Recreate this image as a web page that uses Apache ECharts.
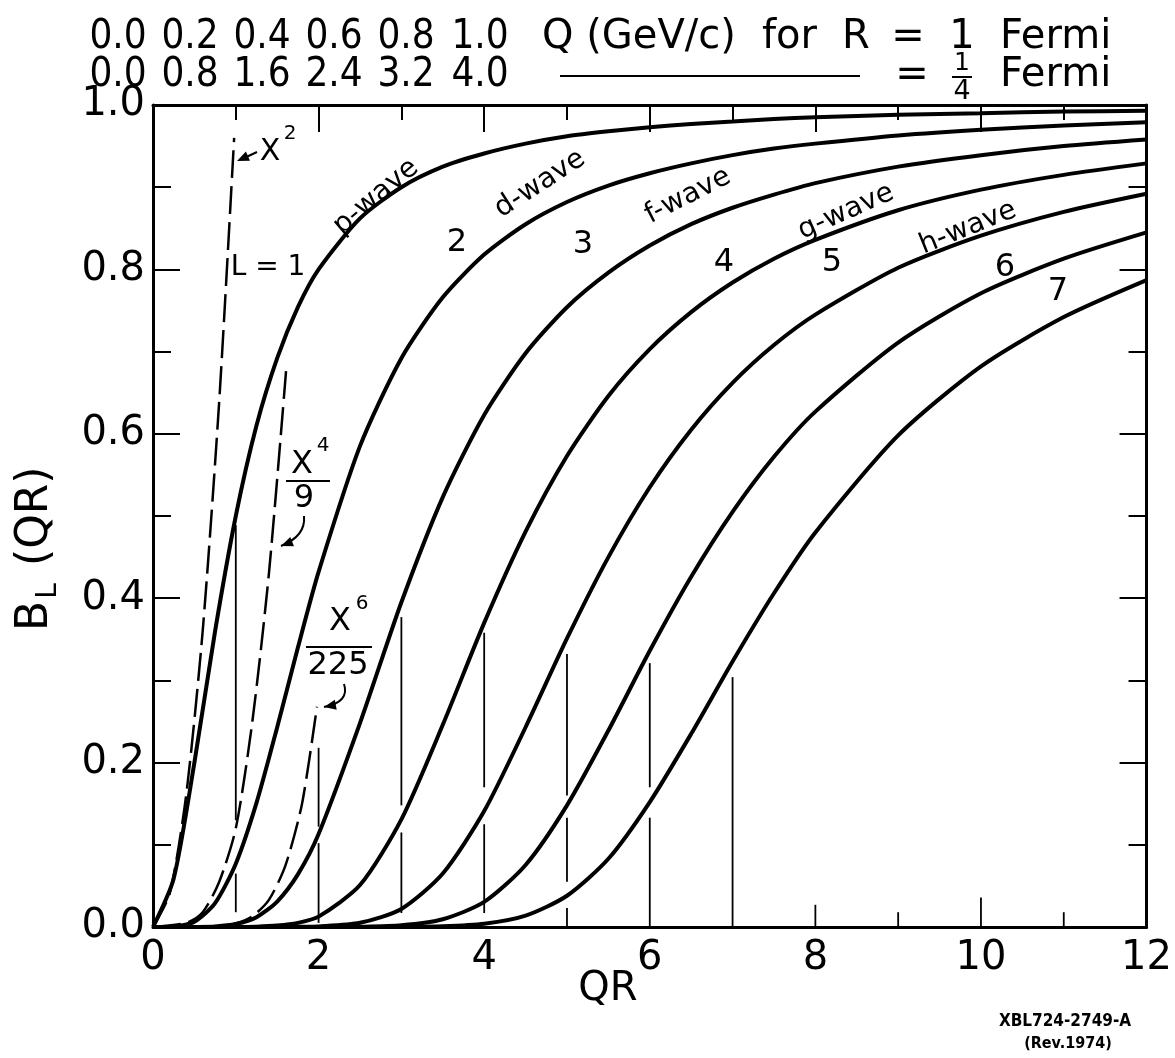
<!DOCTYPE html>
<html>
<head>
<meta charset="utf-8">
<title>Barrier penetration factors B_L(QR)</title>
<script src="https://cdn.jsdelivr.net/npm/echarts@6/dist/echarts.min.js"></script>
<style>
html,body{margin:0;padding:0;background:#fff;}
#chart{width:1175px;height:1058px;}
</style>
</head>
<body>
<div id="chart"></div>
<script>
// ---------- data ----------
const qr = [0,0.25,0.5,0.75,1,1.25,1.5,1.75,2,2.5,3,3.5,4,4.5,5,5.5,6,6.5,7,7.5,8,9,10,11,12];
const bL1 = [0,0.059,0.2,0.36,0.5,0.61,0.692,0.754,0.8,0.862,0.9,0.925,0.941,0.953,0.962,0.968,0.973,0.977,0.98,0.983,0.985,0.988,0.99,0.992,0.993];
const bL2 = [0,0.0004,0.0064,0.029,0.077,0.151,0.243,0.34,0.432,0.585,0.692,0.766,0.818,0.855,0.882,0.902,0.917,0.929,0.939,0.947,0.953,0.963,0.97,0.975,0.979];
const bL3 = [0,0,0.0001,0.0007,0.0036,0.012,0.031,0.064,0.113,0.248,0.395,0.523,0.623,0.698,0.754,0.796,0.829,0.855,0.875,0.891,0.905,0.925,0.939,0.95,0.958];
const bL4 = [0,0,0,0,0.0001,0.0004,0.0017,0.005,0.0126,0.051,0.131,0.246,0.37,0.481,0.573,0.646,0.703,0.748,0.784,0.813,0.836,0.872,0.897,0.915,0.929];
const bL5 = [0,0,0,0,0,0,0,0.0002,0.0007,0.0051,0.022,0.065,0.141,0.243,0.351,0.45,0.535,0.605,0.662,0.708,0.745,0.802,0.841,0.87,0.892];
const bL6 = [0,0,0,0,0,0,0,0,0.00003,0.0003,0.002,0.0094,0.0305,0.0755,0.148,0.239,0.336,0.426,0.505,0.572,0.627,0.711,0.771,0.813,0.845];
const bL7 = [0,0,0,0,0,0,0,0,0,0.00002,0.0001,0.0008,0.0039,0.0138,0.038,0.083,0.152,0.235,0.323,0.406,0.48,0.598,0.682,0.742,0.787];

// small-x approximations (dashed)
const qrSq = [0,0.2,0.4,0.6,0.8,0.98];
const bSq  = [0,0.04,0.16,0.36,0.64,0.96];
const qrX4 = [0,0.4,0.6,0.8,1.0,1.2,1.4,1.61];
const bX4  = [0,0.005,0.018,0.055,0.12,0.25,0.43,0.68];
const qrX6 = [0,0.6,0.8,1.0,1.2,1.4,1.6,1.8,1.98];
const bX6  = [0,0.0002,0.0012,0.0044,0.013,0.033,0.075,0.15,0.268];

// vertical marker segments [QR, from, to] (broken where curves cross) and bottom ticks
const markerSegs = [
  [1,0.018,0.065],[1,0.13,0.489],
  [2,0.005,0.102],[2,0.122,0.218],
  [3,0.017,0.115],[3,0.148,0.377],
  [4,0.017,0.125],[4,0.17,0.358],
  [5,0,0.023],[5,0.055,0.133],[5,0.16,0.332],
  [6,0,0.133],[6,0.17,0.321],
  [7,0,0.304],
  [8,0,0.027],[9,0,0.018],[10,0,0.036],[11,0,0.018]
];

// top-scale tick labels
const qGeV1 = ['0.0','0.2','0.4','0.6','0.8','1.0'];
const qGeV4 = ['0.0','0.8','1.6','2.4','3.2','4.0'];
const waveNames = ['p-wave','d-wave','f-wave','g-wave','h-wave'];
const lNumbers = ['2','3','4','5','6','7'];

// ---------- chart ----------
const chart = echarts.init(document.getElementById('chart'));
const BLACK = '#000';
const pair = (xv, yv) => xv.map((x, i) => [x, yv[i]]);
const FONT_AX = '"DejaVu Sans", sans-serif';
const FONT_N = '"DejaVu Sans Condensed", "Liberation Sans Narrow", sans-serif';

const curves = [bL1,bL2,bL3,bL4,bL5,bL6,bL7].map((b, i) => ({
  type: 'line', name: 'L=' + (i + 1), data: pair(qr, b),
  smooth: 0.25, showSymbol: false, symbol: 'none',
  lineStyle: { color: BLACK, width: 4 }, z: 5, silent: true
}));
const dashed = [[qrSq,bSq],[qrX4,bX4],[qrX6,bX6]].map(([xv, yv]) => ({
  type: 'line', data: pair(xv, yv), smooth: 0.25, showSymbol: false, symbol: 'none',
  lineStyle: { color: BLACK, width: 2.5, type: [28, 8] }, z: 4, silent: true
}));
const markers = {
  type: 'custom', data: markerSegs, encode: { x: 0, y: [1, 2] }, silent: true, z: 3,
  renderItem: (params, api) => {
    const a = api.coord([api.value(0), api.value(1)]);
    const b = api.coord([api.value(0), api.value(2)]);
    return { type: 'line', shape: { x1: a[0], y1: a[1], x2: b[0], y2: b[1] },
             style: { stroke: BLACK, lineWidth: 1.8 } };
  }
};

const axLine = { show: true, onZero: false, lineStyle: { color: BLACK, width: 3 } };
const tickIn = { show: true, inside: true, length: 27, lineStyle: { color: BLACK, width: 2 } };
const minorIn = { show: true, splitNumber: 2, length: 15, lineStyle: { color: BLACK, width: 2 } };

// ---------- annotation helpers ----------
const G = [];
const txt = (text, x, y, size, opts = {}) => G.push({
  type: 'text', x, y, rotation: opts.rot || 0, z: 20,
  style: { text, font: (opts.bold ? 'bold ' : '') + size + 'px ' + (opts.family || FONT_AX),
           fill: BLACK, align: opts.align || 'center', verticalAlign: opts.va || 'middle' }
});
const seg = (x1, y1, x2, y2, w) => G.push({ type: 'line', z: 20,
  shape: { x1, y1, x2, y2 }, style: { stroke: BLACK, lineWidth: w || 2 } });
const arrowHead = (tx, ty, fx, fy, len, wid) => {
  const dx = tx - fx, dy = ty - fy, d = Math.hypot(dx, dy), ux = dx / d, uy = dy / d;
  const bx = tx - ux * len, by = ty - uy * len;
  G.push({ type: 'polygon', z: 20, shape: { points: [[tx, ty],
    [bx - uy * wid, by + ux * wid], [bx + uy * wid, by - ux * wid]] }, style: { fill: BLACK } });
};
const curveArrow = (x1, y1, cx, cy, x2, y2) => {
  G.push({ type: 'bezierCurve', z: 20, shape: { x1, y1, x2, y2, cpx1: cx, cpy1: cy },
    style: { stroke: BLACK, lineWidth: 2, fill: null } });
  arrowHead(x2, y2, cx, cy, 12, 5);
};

// header rows
const HS = 40, hy1 = 38, hy2 = 76;
const colX = [118, 190, 262, 334, 406, 480];
qGeV1.forEach((s, i) => txt(s, colX[i], hy1, HS, { family: FONT_N }));
qGeV4.forEach((s, i) => txt(s, colX[i], hy2, HS, { family: FONT_N }));
txt('Q (GeV/c)', 542, hy1, HS, { align: 'left' });
txt('for', 762, hy1, HS, { align: 'left' });
txt('R', 842, hy1, HS, { align: 'left' });
txt('=', 908, hy1, HS);
txt('1', 962, hy1, HS);
txt('Fermi', 1000, hy1, HS, { align: 'left' });
seg(560, hy2, 860, hy2, 2);
txt('=', 912, hy2, HS);
txt('1', 962, hy2 - 13, 25);
seg(952, hy2 + 1, 972, hy2 + 1, 2);
txt('4', 962, hy2 + 16, 27);
txt('Fermi', 1000, hy2, HS, { align: 'left' });

// axis titles
txt('QR', 608, 990, 40);
G.push({ type: 'group', x: 36, y: 540, rotation: Math.PI / 2, z: 20, children: [
  { type: 'text', x: -76, y: 0, style: { text: 'B', font: '44px ' + FONT_AX, fill: BLACK, align: 'center', verticalAlign: 'middle' } },
  { type: 'text', x: -51, y: 13, style: { text: 'L', font: '28px ' + FONT_AX, fill: BLACK, align: 'center', verticalAlign: 'middle' } },
  { type: 'text', x: -26, y: 0, style: { text: '(QR)', font: '44px ' + FONT_AX, fill: BLACK, align: 'left', verticalAlign: 'middle' } }
]});
txt('XBL724-2749-A', 1065, 1022, 17, { bold: true, family: FONT_N });
txt('(Rev.1974)', 1068, 1044, 16, { bold: true, family: FONT_N });

// curve labels
txt('L = 1', 268, 268, 28);
const waveLab = [[376,197,40],[540,184,33],[688,196,27],[846,212,24],[968,228,22]];
waveNames.forEach((s, i) => txt(s, waveLab[i][0], waveLab[i][1], 28, { rot: waveLab[i][2] * Math.PI / 180 }));
const numLab = [[457,243],[583,245],[724,263],[832,263],[1005,268],[1058,292]];
lNumbers.forEach((s, i) => txt(s, numLab[i][0], numLab[i][1], 32));

// x^2
txt('X', 270, 152, 30);
txt('2', 290, 134, 20);
seg(257, 152, 242, 159, 2);
arrowHead(237, 161, 257, 152, 12, 5);
// x^4 / 9
txt('X', 302, 465, 32);
txt('4', 323, 446, 20);
seg(286, 481, 330, 481, 2);
txt('9', 304, 499, 32);
curveArrow(304, 516, 306, 536, 281, 546);
// x^6 / 225
txt('X', 340, 622, 32);
txt('6', 362, 604, 20);
seg(306, 647, 372, 647, 2);
txt('225', 338, 666, 32);
curveArrow(344, 684, 350, 702, 324, 707);

chart.setOption({
  animation: false,
  backgroundColor: '#fff',
  grid: { left: 153, right: 18, top: 105, bottom: 131, containLabel: false },
  xAxis: [
    { type: 'value', min: 0, max: 12, interval: 2, position: 'bottom', axisLine: axLine,
      axisTick: { show: false }, splitLine: { show: false },
      axisLabel: { color: BLACK, fontSize: 40, fontFamily: FONT_AX, margin: 12 } },
    { type: 'value', min: 0, max: 12, interval: 2, position: 'top', axisLine: axLine,
      axisTick: tickIn, minorTick: minorIn, splitLine: { show: false }, axisLabel: { show: false } }
  ],
  yAxis: [
    { type: 'value', min: 0, max: 1, interval: 0.2, position: 'left', axisLine: axLine,
      axisTick: tickIn, minorTick: { ...minorIn, length: 18 }, splitLine: { show: false },
      axisLabel: { color: BLACK, fontSize: 40, fontFamily: FONT_AX, margin: 8,
                   formatter: v => v.toFixed(1) } },
    { type: 'value', min: 0, max: 1, interval: 0.2, position: 'right', axisLine: axLine,
      axisTick: tickIn, minorTick: { ...minorIn, length: 18 }, splitLine: { show: false },
      axisLabel: { show: false } }
  ],
  series: [markers, ...dashed, ...curves],
  graphic: { elements: G }
});
</script>
</body>
</html>
